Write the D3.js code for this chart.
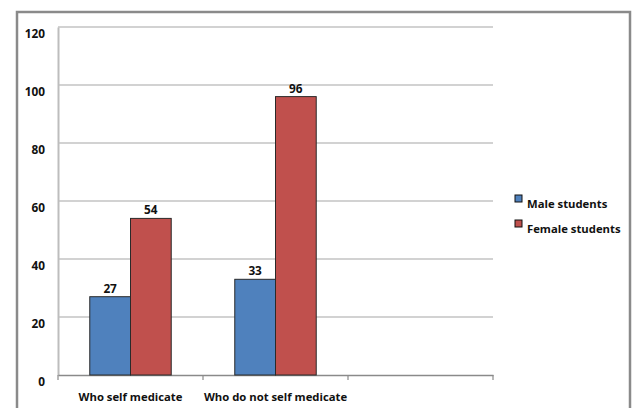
<!DOCTYPE html>
<html><head><meta charset="utf-8">
<script src="https://cdn.jsdelivr.net/npm/d3@7"></script>
<style>body{margin:0;background:#fff}svg{display:block}text{font-family:"Open Sans","Noto Sans",sans-serif;font-weight:bold;fill:#111}</style>
</head><body>
<script>
const categories = ["Who self medicate", "Who do not self medicate", ""];
const seriesNames = ["Male students", "Female students"];
const male = [27, 33, null];
const female = [54, 96, null];
const yTicks = [0, 20, 40, 60, 80, 100, 120];
const colors = ["#4F81BD", "#C0504D"];

(function(){
const W = 635, H = 408, FS = 11.3;
const svg = d3.select("body").append("svg").attr("width", W).attr("height", H);

// outer frame
svg.append("rect").attr("x", 17).attr("y", 12).attr("width", 613).attr("height", 420)
  .attr("fill", "none").attr("stroke", "#8a8a8a").attr("stroke-width", 2.5);

const pLeft = 58, pRight = 493, pTop = 27, pBottom = 375;
const x = d3.scaleBand().domain(d3.range(categories.length)).range([pLeft, pRight]).paddingInner(0).paddingOuter(0);
const y = d3.scaleLinear().domain([0, 120]).range([pBottom, pTop]);
const inner = d3.scaleBand().domain([0, 1]).range([0, x.bandwidth()]).paddingOuter(0.78).paddingInner(0);

// gridlines
svg.append("g").selectAll("line").data(yTicks.filter(d => d > 0)).join("line")
  .attr("x1", pLeft).attr("x2", pRight).attr("y1", d => y(d)).attr("y2", d => y(d))
  .attr("stroke", "#a6a6a6").attr("stroke-width", 1.2);

// y axis
const ya = svg.append("g").attr("transform", `translate(${pLeft},0)`)
  .call(d3.axisLeft(y).tickValues(yTicks).tickSize(0).tickPadding(13));
ya.select(".domain").attr("stroke", "#bdbdbd").attr("stroke-width", 2);
ya.selectAll("text").attr("font-size", FS + 0.5).attr("font-family", "'Open Sans','Noto Sans',sans-serif").attr("font-weight", "bold").attr("fill", "#111").attr("dy", "0.9em");

// x axis
const xa = svg.append("g").attr("transform", `translate(0,${pBottom})`)
  .call(d3.axisBottom(x).tickFormat(i => categories[i]).tickSize(0).tickPadding(18));
xa.select(".domain").attr("stroke", "#8a8a8a").attr("stroke-width", 1.5);
xa.selectAll("text").attr("font-size", FS).attr("font-family", "'Open Sans','Noto Sans',sans-serif").attr("font-weight", "bold").attr("fill", "#111");
// category boundary ticks
const bounds = d3.range(categories.length + 1).map(i => pLeft + i * x.bandwidth());
svg.append("g").selectAll("line").data(bounds).join("line")
  .attr("x1", d => d).attr("x2", d => d).attr("y1", pBottom).attr("y2", pBottom + 5)
  .attr("stroke", "#8a8a8a").attr("stroke-width", 1.2);

// bars
const data = [male, female];
data.forEach((vals, s) => {
  const g = svg.append("g");
  vals.forEach((v, i) => {
    if (v == null) return;
    const bx = x(i) + inner(s);
    g.append("rect").attr("x", bx).attr("y", y(v)).attr("width", inner.bandwidth()).attr("height", y(0) - y(v))
      .attr("fill", colors[s]).attr("stroke", "#2a2a2a").attr("stroke-width", 1);
    g.append("text").attr("x", bx + inner.bandwidth() / 2).attr("y", y(v) - 4)
      .attr("text-anchor", "middle").attr("font-size", FS + 0.5).text(v);
  });
});

// legend
const lg = svg.append("g");
seriesNames.forEach((n, i) => {
  const ly = 195 + i * 25;
  lg.append("rect").attr("x", 515).attr("y", ly).attr("width", 7).attr("height", 7)
    .attr("fill", colors[i]).attr("stroke", "#111").attr("stroke-width", 1);
  lg.append("text").attr("x", 527).attr("y", ly + 13).attr("font-size", FS).text(n);
});
})();
</script>
</body></html>
